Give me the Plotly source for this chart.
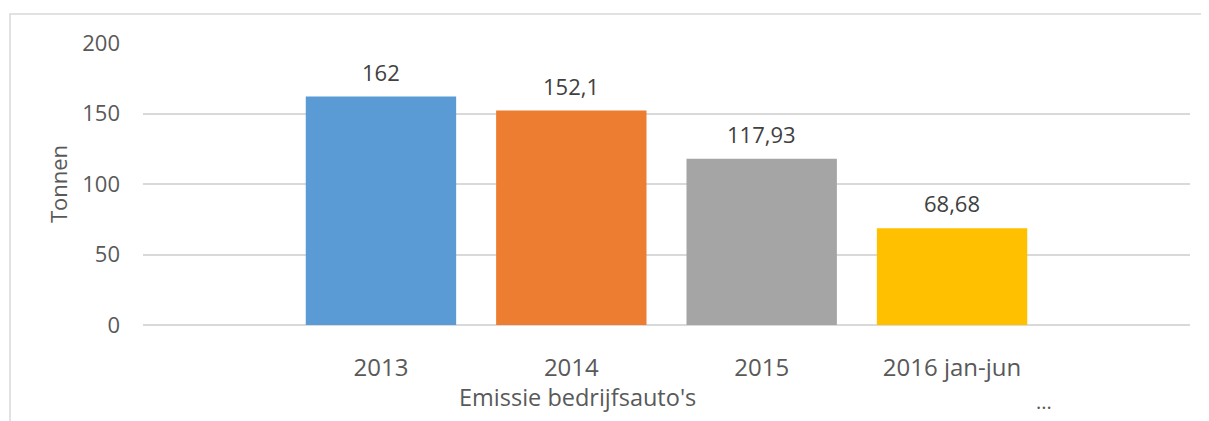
import plotly.graph_objects as go

# ── Data ─────────────────────────────────────────────
years = ["2013", "2014", "2015", "2016 jan-jun"]
tonnen = [162, 152.1, 117.93, 68.68]
colors = ["#5B9BD5", "#ED7D31", "#A5A5A5", "#FFC000"]
y_ticks = [0, 50, 100, 150, 200]

labels = [f"{v:g}".replace(".", ",") for v in tonnen]
txt = "#595959"
font_family = "Open Sans, Liberation Sans, sans-serif"

# page body adds a small offset, compensate for it
OX, OY = 8, 8
# plot area in screen pixels (from the reference)
L, R, T, B = 143, 1190, 43, 325
W, H = R - L, B - T

fig = go.Figure(go.Bar(
    x=years,
    y=tonnen,
    marker=dict(color=colors, line=dict(width=0)),
    width=0.79,
    hoverinfo="skip",
))

# data labels above each bar (x as category index)
for i, (v, lab) in enumerate(zip(tonnen, labels)):
    fig.add_annotation(x=i, y=v, text=lab, showarrow=False,
                       yanchor="middle", yshift=25,
                       font=dict(size=22, color="#404040"))

# axis title + truncated category hint
fig.add_annotation(x=(577 - L) / W, xref="paper", y=(B - 397) / H, yref="paper",
                   text="Emissie bedrijfsauto's", showarrow=False,
                   yanchor="middle", font=dict(size=23.5, color=txt))
fig.add_annotation(x=(1054 - L) / W, xref="paper", y=(B - 401) / H, yref="paper",
                   text="...", showarrow=False,
                   yanchor="middle", font=dict(size=20, color=txt))

# outer chart border (runs off the right and bottom edge)
fig.add_shape(type="rect", xref="paper", yref="paper",
              x0=(10 - L) / W, x1=1.2, y0=-1, y1=(B - 14) / H,
              line=dict(color="#d9d9d9", width=1.5), layer="below")

fig.update_layout(
    width=1209, height=421,
    margin=dict(l=L - OX, r=1209 - R + OX, t=T - OY, b=421 - B + OY),
    paper_bgcolor="white", plot_bgcolor="white",
    font=dict(family=font_family, size=22, color=txt),
    showlegend=False,
    xaxis=dict(
        type="category",
        range=[-1.25, 4.25],
        automargin=False,
        showgrid=False, showline=False, ticks="",
        ticklabelstandoff=26,
        tickfont=dict(size=24, color=txt),
    ),
    yaxis=dict(
        range=[0, 200],
        tickvals=y_ticks,
        automargin=False,
        showgrid=True, gridcolor="#d9d9d9", gridwidth=1.5,
        zeroline=True, zerolinecolor="#d9d9d9", zerolinewidth=1.5,
        showline=False, ticks="",
        ticklabelstandoff=22,
        tickfont=dict(size=22, color=txt),
        title=dict(text="Tonnen", standoff=8, font=dict(size=22, color=txt)),
    ),
)

fig.write_html("out.html")
